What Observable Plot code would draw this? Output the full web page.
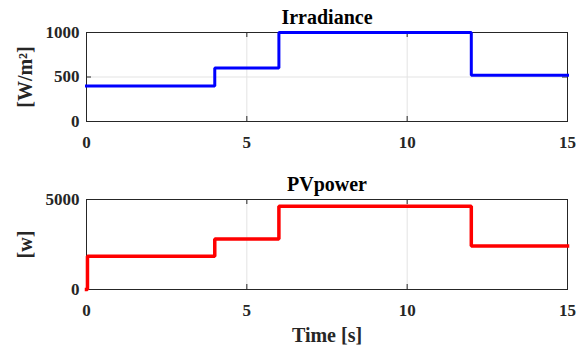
<!DOCTYPE html>
<html>
<head>
<meta charset="utf-8">
<script src="https://cdn.jsdelivr.net/npm/d3@7"></script>
<script src="https://cdn.jsdelivr.net/npm/@observablehq/plot@0.6"></script>
<style>
  body { margin: 0; background: #fff; }
  #chart svg { display: block; }
</style>
</head>
<body>
<div id="chart"></div>
<script>
// Irradiance series
const irrTime = [0, 4, 6, 12, 15];
const irrValue = [400, 600, 1000, 520, 520];
// PV power series
const pvTime = [0, 0.03, 4, 6, 12, 15];
const pvValue = [0, 1850, 2810, 4630, 2420, 2420];
// ticks
const xTicks = [0, 5, 10, 15];
const irrTicks = [0, 500, 1000];
const pvTicks = [0, 5000];
const titles = ["Irradiance", "PVpower"];
const yLabels = ["[W/m\u00B2]", "[w]"];
const xLabel = "Time [s]";

const W = 582;
const font = "'Liberation Serif', 'Times New Roman', serif";
const ink = "#262626";

function panel({time, value, yDomain, yTicks, color, title, yLabel, height, mt, mb, xlab, sw}) {
  const data = time.map((t, i) => ({t, v: value[i]}));
  const ml = 86, mr = 15;
  const fw = W - ml - mr, fh = height - mt - mb;
  const marks = [
    Plot.gridX(xTicks.slice(1, -1), {stroke: "#e3e3e3", strokeOpacity: 1}),
    Plot.gridY(yTicks.slice(1, -1), {stroke: "#e3e3e3", strokeOpacity: 1}),
    Plot.axisX(xTicks, {tickSize: 0, tickPadding: 14, fontSize: 17, fontWeight: "bold", fill: ink, label: null, tickFormat: d => String(d)}),
    Plot.axisY(yTicks, {tickSize: 0, tickPadding: 7, fontSize: 17, fontWeight: "bold", fill: ink, label: null, tickFormat: d => String(d)}),
    Plot.ruleX(xTicks, {insetTop: fh - 5, stroke: ink}),
    Plot.ruleX(xTicks, {insetBottom: fh - 5, stroke: ink}),
    Plot.ruleY(yTicks, {insetRight: fw - 5, stroke: ink}),
    Plot.ruleY(yTicks, {insetLeft: fw - 5, stroke: ink}),
    Plot.frame({stroke: ink, strokeWidth: 1}),
    Plot.line(data, {x: "t", y: "v", curve: "step-after", stroke: color, strokeWidth: sw, strokeLinejoin: "miter", strokeLinecap: "square"}),
    Plot.text([title], {text: d => d, frameAnchor: "top", dy: -9, lineAnchor: "bottom", fontSize: 20, fontWeight: "bold", fill: "#000"}),
    Plot.text([yLabel], {text: d => d, frameAnchor: "left", textAnchor: "middle", dx: -61, rotate: -90, lineAnchor: "middle", fontSize: 20, fontWeight: "bold", fill: ink})
  ];
  if (xlab) {
    marks.push(Plot.text([xlab], {text: d => d, frameAnchor: "bottom", dy: 52, lineAnchor: "bottom", fontSize: 20, fontWeight: "bold", fill: ink}));
  }
  return Plot.plot({
    width: W, height,
    marginLeft: ml, marginRight: mr, marginTop: mt, marginBottom: mb,
    style: {fontFamily: font, background: "#fff", overflow: "visible"},
    x: {domain: [0, 15], label: null},
    y: {domain: yDomain, label: null},
    marks
  });
}

const chart = document.getElementById("chart");
chart.append(panel({time: irrTime, value: irrValue, yDomain: [0, 1000], yTicks: irrTicks, color: "#0000ff",
  title: titles[0], yLabel: yLabels[0], height: 170, mt: 32, mb: 49, sw: 3}));
chart.append(panel({time: pvTime, value: pvValue, yDomain: [0, 5000], yTicks: pvTicks, color: "#ff0000",
  title: titles[1], yLabel: yLabels[1], height: 175, mt: 29, mb: 56, xlab: xLabel, sw: 3.5}));
</script>
</body>
</html>
